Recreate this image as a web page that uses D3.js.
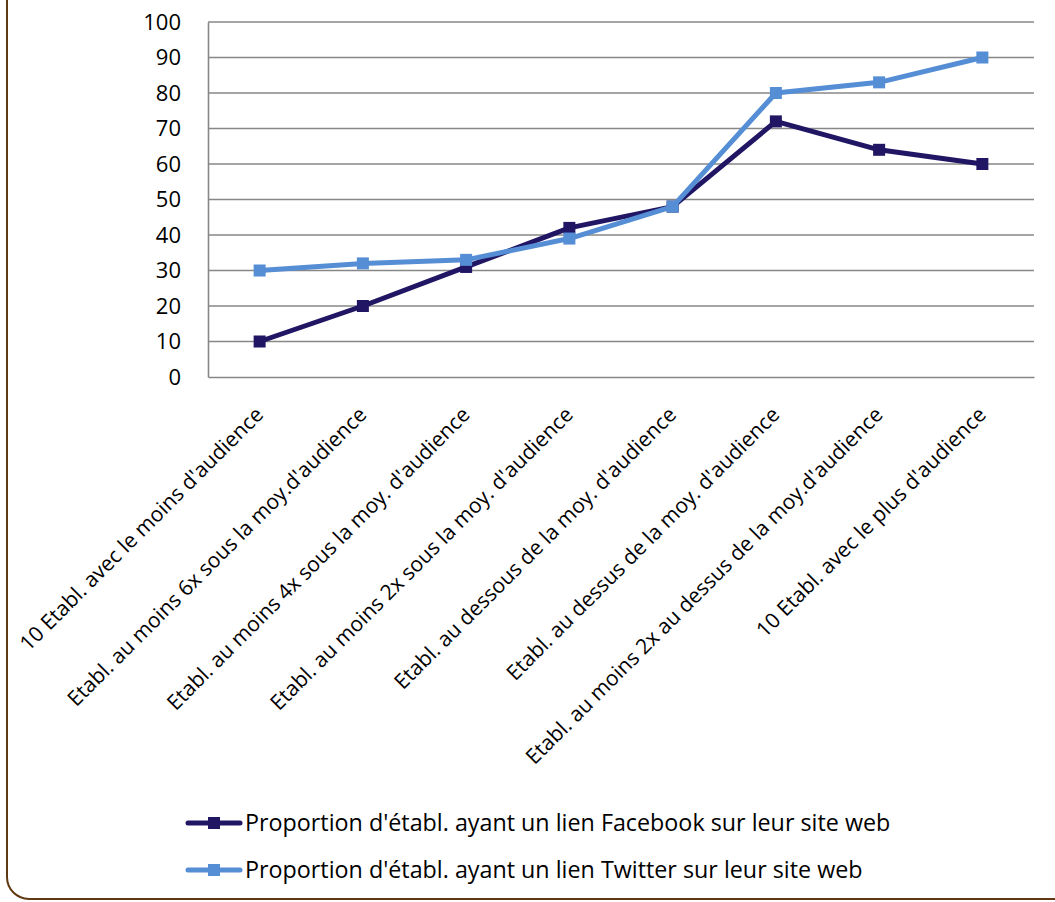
<!DOCTYPE html>
<html>
<head>
<meta charset="utf-8">
<script src="https://cdn.jsdelivr.net/npm/d3@7"></script>
<style>
  html, body { margin: 0; padding: 0; background: #fff; }
  svg { display: block; }
  text { font-family: "Open Sans", sans-serif; fill: #000; }
</style>
</head>
<body>
<svg id="chart" width="1055" height="902"></svg>
<script>
const categories = [
  "10 Etabl. avec le moins d'audience",
  "Etabl. au moins 6x sous la moy.d'audience",
  "Etabl. au moins 4x sous la moy. d'audience",
  "Etabl. au moins 2x sous la moy. d'audience",
  "Etabl. au dessous de la moy. d'audience",
  "Etabl. au dessus de la moy. d'audience",
  "Etabl. au moins 2x au dessus de la moy.d'audience",
  "10 Etabl. avec le plus d'audience"
];
const facebookValues = [10, 20, 31, 42, 48, 72, 64, 60];
const twitterValues  = [30, 32, 33, 39, 48, 80, 83, 90];
const yTicks = [0, 10, 20, 30, 40, 50, 60, 70, 80, 90, 100];
const seriesNames = [
  "Proportion d'établ. ayant un lien Facebook sur leur site web",
  "Proportion d'établ. ayant un lien Twitter sur leur site web"
];
const seriesColors = ["#201664", "#558ed5"];

const svg = d3.select("#chart");

// outer frame with rounded corners
svg.append("rect")
  .attr("x", 7).attr("y", -40)
  .attr("width", 1100).attr("height", 939)
  .attr("rx", 22).attr("ry", 22)
  .attr("fill", "none")
  .attr("stroke", "#603913")
  .attr("stroke-width", 2);

const plot = { left: 208, right: 1034, top: 22, bottom: 377 };

const x = d3.scaleBand().domain(categories).range([plot.left, plot.right]);
const y = d3.scaleLinear().domain([0, 100]).range([plot.bottom, plot.top]);
const cx = c => x(c) + x.bandwidth() / 2;

// horizontal gridlines
svg.append("g")
  .selectAll("line")
  .data(yTicks.filter(t => t > 0))
  .join("line")
  .attr("x1", plot.left).attr("x2", plot.right)
  .attr("y1", d => y(d)).attr("y2", d => y(d))
  .attr("stroke", "#878787").attr("stroke-width", 1.6);

// y axis
const yAxis = svg.append("g")
  .attr("transform", `translate(${plot.left},0)`)
  .call(d3.axisLeft(y).tickValues(yTicks).tickSize(0).tickPadding(27));
yAxis.select(".domain").attr("stroke", "#878787").attr("stroke-width", 1.6);
yAxis.selectAll("text")
  .style("font-family", "'Open Sans', sans-serif")
  .style("font-size", "22px")
  .attr("fill", "#000");

// x axis
const xAxis = svg.append("g")
  .attr("transform", `translate(0,${plot.bottom})`)
  .call(d3.axisBottom(x).tickSize(0).tickPadding(0));
xAxis.select(".domain").attr("stroke", "#878787").attr("stroke-width", 1.6);
xAxis.selectAll(".tick text")
  .style("font-family", "'Open Sans', sans-serif")
  .style("font-size", "21px")
  .attr("fill", "#000")
  .attr("text-anchor", "end")
  .attr("dy", "0")
  .attr("transform", "translate(5,39) rotate(-45)");

// series lines and markers
const series = [facebookValues, twitterValues];
const line = d3.line().x((d, i) => cx(categories[i])).y(d => y(d));

series.forEach((vals, s) => {
  svg.append("path")
    .datum(vals)
    .attr("d", line)
    .attr("fill", "none")
    .attr("stroke", seriesColors[s])
    .attr("stroke-width", 5)
    .attr("stroke-linejoin", "round");
  svg.append("g")
    .selectAll("rect")
    .data(vals)
    .join("rect")
    .attr("x", (d, i) => cx(categories[i]) - 6)
    .attr("y", d => y(d) - 6)
    .attr("width", 12).attr("height", 12)
    .attr("fill", seriesColors[s]);
});

// legend
const legend = svg.append("g");
seriesNames.forEach((name, s) => {
  const ly = 823 + s * 47;
  legend.append("line")
    .attr("x1", 188).attr("x2", 240)
    .attr("y1", ly).attr("y2", ly)
    .attr("stroke", seriesColors[s])
    .attr("stroke-width", 5)
    .attr("stroke-linecap", "round");
  legend.append("rect")
    .attr("x", 208).attr("y", ly - 6)
    .attr("width", 12).attr("height", 12)
    .attr("fill", seriesColors[s]);
  legend.append("text")
    .attr("x", 245).attr("y", ly)
    .attr("dy", "0.35em")
    .style("font-size", "23.3px")
    .text(name);
});
</script>
</body>
</html>
